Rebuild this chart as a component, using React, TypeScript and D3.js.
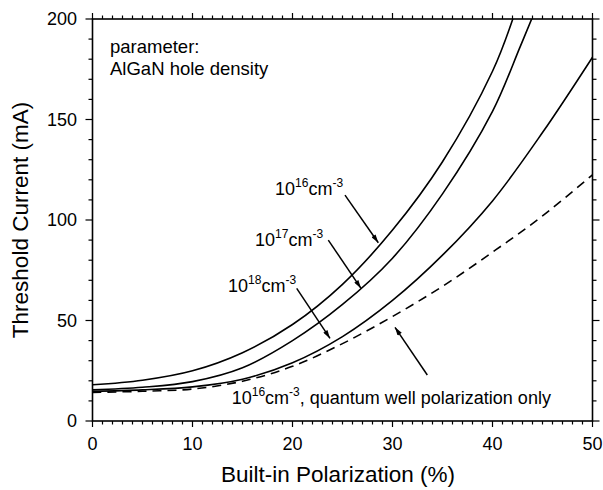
import React from "react";
import * as d3 from "d3";

// ---- data ----
const s16X = [0, 5, 10, 15, 20, 25, 30, 35, 40, 42.1];
const s16Y = [18, 20.3, 25, 34, 48, 68, 95, 129, 174, 201];
const s17X = [0, 5, 10, 15, 20, 25, 30, 35, 40, 42.75, 44];
const s17Y = [15.5, 16.8, 19.6, 26.5, 40, 58, 81, 113, 154, 186, 201];
const s18X = [0, 5, 10, 15, 20, 25, 30, 35, 40, 45, 50];
const s18Y = [14.8, 15.5, 17, 20.8, 29, 42, 60, 82.5, 109.5, 143.5, 181];
const qwX = [0, 5, 10, 15, 20, 25, 30, 35, 40, 45, 50];
const qwY = [14.2, 14.8, 15.9, 19.8, 27.2, 38.5, 52, 67, 84, 102, 122.5];

const xTicks = [0, 10, 20, 30, 40, 50];
const yTicks = [0, 50, 100, 150, 200];

// annotations in data units: label anchor, arrow start, arrow end
const labels = [
  { base: "10", exp: "16", rest: ", quantum well polarization only", lx: 13.92, ly: 8.5, ax1: 33.48, ay1: 22.9, ax2: 30.25, ay2: 46.6 },
  { base: "10", exp: "16", rest: "", lx: 18.25, ly: 112.4, ax1: 25.25, ay1: 112.4, ax2: 28.58, ay2: 88.7 },
  { base: "10", exp: "17", rest: "", lx: 16.25, ly: 87.1, ax1: 23.58, ay1: 90.0, ax2: 26.85, ay2: 66.0 },
  { base: "10", exp: "18", rest: "", lx: 13.55, ly: 64.3, ax1: 20.42, ay1: 66.0, ax2: 23.75, ay2: 41.1 },
];

const W = 603, H = 490;
const L = 92.5, R = 592.5, T = 19, B = 421;
const FONT = "'Liberation Sans', Arial, Helvetica, sans-serif";

export default function App() {
  const x = d3.scaleLinear().domain([0, 50]).range([L, R]);
  const y = d3.scaleLinear().domain([0, 200]).range([B, T]);
  const line = d3.line<[number, number]>().x(d => x(d[0])).y(d => y(d[1])).curve(d3.curveCatmullRom.alpha(0.5));
  const zip = (a: number[], b: number[]) => a.map((v, i) => [v, b[i]] as [number, number]);

  const xMinor = d3.range(0, 51, 1);
  const yMinor = d3.range(0, 201, 10);

  return (
    <svg width={W} height={H} style={{ position: "absolute", left: 0, top: 0, background: "#fff" }} fontFamily={FONT}>
      <defs>
        <clipPath id="plot">
          <rect x={L} y={T} width={R - L} height={B - T} />
        </clipPath>
        <marker id="ah" viewBox="0 0 10 6" refX="10" refY="3" markerWidth="10" markerHeight="5" markerUnits="userSpaceOnUse" orient="auto">
          <path d="M0,0 L10,3 L0,6 Z" fill="#000" />
        </marker>
      </defs>

      {/* curves */}
      <g clipPath="url(#plot)" fill="none" stroke="#000" strokeWidth={1.6}>
        <path d={line(zip(s16X, s16Y)) || ""} />
        <path d={line(zip(s17X, s17Y)) || ""} />
        <path d={line(zip(s18X, s18Y)) || ""} />
        <path d={line(zip(qwX, qwY)) || ""} strokeDasharray="9,6" />
      </g>

      {/* frame */}
      <rect x={L} y={T} width={R - L} height={B - T} fill="none" stroke="#000" strokeWidth={1.6} />

      {/* x ticks bottom & top */}
      {xMinor.map(v => {
        const major = v % 10 === 0;
        const len = major ? 6 : 3.5;
        return (
          <g key={"xt" + v} stroke="#000" strokeWidth={1.2}>
            <line x1={x(v)} x2={x(v)} y1={B} y2={B + len} />
            <line x1={x(v)} x2={x(v)} y1={T} y2={T - len} />
          </g>
        );
      })}
      {yMinor.map(v => {
        const major = v % 50 === 0;
        const len = major ? 7 : 4;
        return (
          <g key={"yt" + v} stroke="#000" strokeWidth={1.2}>
            <line x1={L} x2={L - len} y1={y(v)} y2={y(v)} />
            <line x1={R} x2={R + len} y1={y(v)} y2={y(v)} />
          </g>
        );
      })}

      {/* tick labels */}
      {xTicks.map(v => (
        <text key={"xl" + v} x={x(v)} y={450} textAnchor="middle" fontSize={18}>{v}</text>
      ))}
      {yTicks.map(v => (
        <text key={"yl" + v} x={77} y={y(v) + 6.3} textAnchor="end" fontSize={18}>{v}</text>
      ))}

      {/* axis titles */}
      <text x={338} y={482} textAnchor="middle" fontSize={22.5}>Built-in Polarization (%)</text>
      <text transform={`translate(28,${(T + B) / 2}) rotate(-90)`} textAnchor="middle" fontSize={22.5}>Threshold Current (mA)</text>

      {/* parameter note */}
      <text x={x(1.75)} y={y(183.1)} fontSize={18.5}>parameter:</text>
      <text x={x(1.75)} y={y(172.1)} fontSize={18.5}>AlGaN hole density</text>

      {/* labels and arrows */}
      {labels.map((lb, i) => (
        <g key={"lb" + i}>
          <text x={x(lb.lx)} y={y(lb.ly)} fontSize={18}>
            {lb.base}
            <tspan fontSize={12} dy={-8}>{lb.exp}</tspan>
            <tspan fontSize={18} dy={8}>cm</tspan>
            <tspan fontSize={12} dy={-8}>-3</tspan>
            {lb.rest ? <tspan fontSize={18} dy={8}>{lb.rest}</tspan> : null}
          </text>
          <line x1={x(lb.ax1)} y1={y(lb.ay1)} x2={x(lb.ax2)} y2={y(lb.ay2)} stroke="#000" strokeWidth={1.5} markerEnd="url(#ah)" />
        </g>
      ))}
    </svg>
  );
}
